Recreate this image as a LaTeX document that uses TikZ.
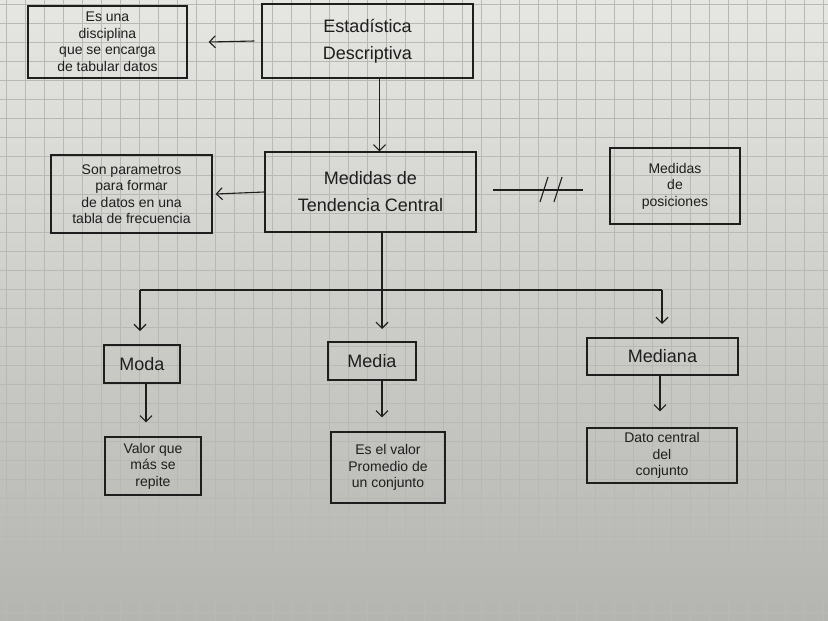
\documentclass[tikz,border=0pt]{standalone}
\usepackage{fontspec}
\setmainfont{Liberation Sans}
\usetikzlibrary{arrows.meta}
\definecolor{paperT}{HTML}{E6E6E2}
\definecolor{paperB}{HTML}{B4B4B0}
\definecolor{gridc}{HTML}{B8B8B4}
\definecolor{ink}{HTML}{1E1E1E}
\begin{document}
\begin{tikzpicture}[x=1pt,y=-1pt,
  box/.style={draw=ink,line width=1.2pt,inner sep=2pt,align=center,text=ink},
  big/.style={box,font=\fontsize{18}{27}\selectfont},
  small/.style={box,font=\fontsize{14}{16.5}\selectfont},
  conn/.style={draw=ink,line width=1.1pt},
  arr/.style={conn,-{Straight Barb[length=6pt,width=12pt,line width=1.1pt]}}]
\useasboundingbox (0,0) rectangle (828,621);
\shade[top color=paperT,bottom color=paperB] (0,0) rectangle (828,621);
\foreach \i in {0,...,44} {\draw[gridc,line width=0.5pt] (\i*19+6,0) -- (\i*19+6,621);}
\foreach \j in {0,...,33} {\draw[gridc,line width=0.5pt] (0,\j*19+4) -- (828,\j*19+4);}

\node[small,minimum width=159pt,minimum height=72pt] (es) at (107.5,42) {Es una\\disciplina\\que se encarga\\de tabular datos};
\node[big,minimum width=211pt,minimum height=74pt] (est) at (367.5,41) {Estadística\\Descriptiva};
\node[big,minimum width=211pt,minimum height=80pt] (mtc) at (370.5,192) {Medidas de\\Tendencia Central};
\node[small,minimum width=161pt,minimum height=78pt] (son) at (131.5,194) {Son parametros\\para formar\\de datos en una\\tabla de frecuencia};
\node[small,minimum width=130pt,minimum height=76pt] (pos) at (675,186) {Medidas\\de\\posiciones};
\node[big,minimum width=76pt,minimum height=38pt] (moda) at (142,364) {Moda};
\node[big,minimum width=88pt,minimum height=38pt] (media) at (372,361) {Media};
\node[big,minimum width=151pt,minimum height=37pt] (mediana) at (662.5,356.5) {Mediana};
\node[small,minimum width=96pt,minimum height=58pt] (valor) at (153,466) {Valor que\\más se\\repite};
\node[small,minimum width=114pt,minimum height=71pt] (esel) at (388,467.5) {Es el valor\\Promedio de\\un conjunto};
\node[small,minimum width=150pt,minimum height=55pt] (dato) at (662,455.5) {Dato central\\del\\conjunto};

\draw[arr] ([xshift=-7pt]est.west) -- ([xshift=21pt]es.east);
\draw[arr] ([xshift=12pt]est.south) -- ([xshift=9pt]mtc.north);
\draw[arr] (mtc.west) -- ([xshift=3pt]son.east);

\coordinate (ha) at (493,190);
\coordinate (hb) at (583,190);
\draw[conn] (ha) -- (hb);
\draw[conn] (540,202) -- (548,177);
\draw[conn] (554,202) -- (562,177);

\coordinate (j) at (382,290);
\coordinate (jl) at (140,290);
\coordinate (jr) at (662,290);
\draw[conn] ([xshift=11.5pt]mtc.south) -- (j);
\draw[conn] (jl) -- (jr);
\draw[arr] (jl) -- (140,331);
\draw[arr] (j) -- (382,329);
\draw[arr] (jr) -- (662,324);

\draw[arr] ([xshift=4pt]moda.south) -- ([xshift=-7pt,yshift=14pt]valor.north);
\draw[arr] ([xshift=10pt]media.south) -- ([xshift=-6pt,yshift=14pt]esel.north);
\draw[arr] ([xshift=-2.5pt]mediana.south) -- ([xshift=-2pt,yshift=16pt]dato.north);
\end{tikzpicture}
\end{document}
